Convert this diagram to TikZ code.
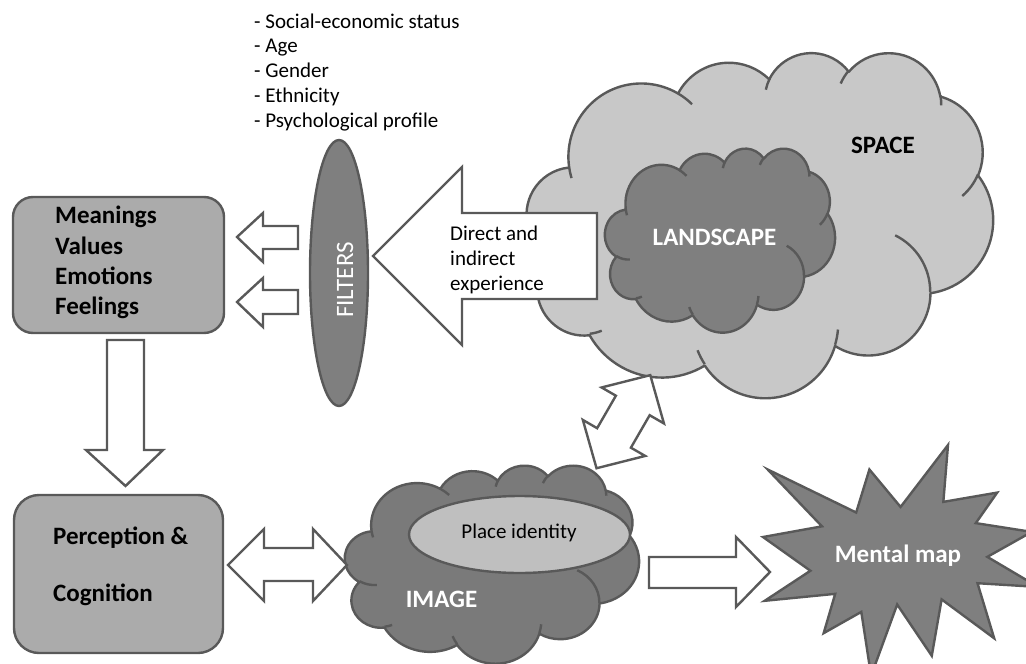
\documentclass[tikz,border=0pt]{standalone}
\usepackage{fontspec}
\setmainfont{Carlito}
\usetikzlibrary{shapes.geometric}
\definecolor{linegray}{HTML}{595959}
\definecolor{boxgray}{HTML}{ABABAB}
\definecolor{shapegray}{HTML}{7F7F7F}
\definecolor{spacegray}{HTML}{C8C8C8}
\definecolor{placegray}{HTML}{BFBFBF}
\definecolor{imagegray}{HTML}{7A7A7A}

\newcommand\oocalc[4]{%
  \pgfmathsetmacro\ooA{atan2((#1)*sin(#3),(#2)*cos(#3))}%
  \pgfmathsetmacro\ooB{atan2((#1)*sin((#3)+(#4)),(#2)*cos((#3)+(#4)))}%
  \pgfmathsetmacro\ooC{\ooB-\ooA}%
  \pgfmathsetmacro\ooC{\ooC+360*(\ooC<0)}%
  \global\let\ooTa\ooA\global\let\ooD\ooC}
\newcommand\ooarc[4]{\pgfextra{\oocalc{#1}{#2}{#3}{#4}}arc[start angle=\ooTa, delta angle=\ooD, x radius=#1, y radius=#2]}
\newcommand\oocloud[6]{%
 \begin{scope}[shift={(#2,#3)},xscale=#4/432,yscale=#5/432]
  \filldraw[cloudline,fill=#6] (39,143.7)
    \ooarc{67.53}{91.90}{-190.4875}{123.7805}
    \ooarc{53.33}{72.67}{-144.1024}{89.9452}
    \ooarc{43.65}{59.45}{-145.8079}{99.7230}
    \ooarc{48.57}{65.95}{-130.9861}{117.2417}
    \ooarc{53.33}{72.73}{-78.7089}{109.0269}
    \ooarc{67.75}{92.20}{-46.2673}{130.2690}
    \ooarc{57.85}{78.67}{0.6250}{114.0333}
    \ooarc{67.52}{92.15}{22.4516}{115.1726}
    \ooarc{77.20}{105.43}{66.2426}{75.7110}
    \ooarc{43.60}{59.40}{-274.9421}{146.7356}
    \ooarc{43.45}{59.45}{-246.8285}{152.5189}
    -- cycle;
  \draw[cloudline] (46.93,261.77) \ooarc{43.45}{59.45}{86.742}{26.4295}
    (69.28,348.99) \ooarc{43.60}{59.40}{73.6105}{11.4475}
    (164.78,390.90) \ooarc{67.52}{92.15}{137.6242}{14.0811}
    (288.27,347.51) \ooarc{67.52}{92.15}{6.4533}{15.9984}
    (341.29,229.54) \ooarc{57.85}{78.67}{-70.2924}{70.9174}
    (417.98,153.54) \ooarc{53.33}{72.73}{30.3180}{27.7515}
    (383.24,54.26) \ooarc{48.57}{65.95}{-13.7443}{14.8589}
    (290.78,39.52) \ooarc{48.57}{65.95}{-149.1815}{18.1954}
    (221.41,47.20) \ooarc{43.65}{59.45}{-163.4943}{17.6864}
    (140.00,51.92) \ooarc{67.53}{91.90}{-66.7070}{12.3194}
    (41.27,157.89) \ooarc{67.53}{91.90}{157.6544}{11.8582};
 \end{scope}
 \coordinate (#1) at ({#2+#4/2},{#3+#5/2});}

\tikzset{
  cloudline/.style={draw=linegray, line width=2.4pt, line join=round},
  blockarrow/.style={draw=linegray, line width=2.4pt, fill=white, line join=miter},
  graybox/.style={draw=linegray, line width=2.4pt, fill=boxgray, rounded corners=#1, inner sep=0pt},
  txt/.style={inner sep=0pt, anchor=base west},
  ctxt/.style={inner sep=0pt, anchor=base},
  small/.style={font=\fontsize{21}{25}\selectfont},
  big/.style={font=\fontsize{25}{30}\selectfont\bfseries},
}

\begin{document}
\begin{tikzpicture}[x=1pt,y=-1pt]
\useasboundingbox (0,0) rectangle (1026,664);
\fill[white] (0,0) rectangle (1026,664);
\clip (0,0) rectangle (1026,664);

% attribute list
\node[txt,small] (l1) at (254,28) {- Social-economic status};
\node[txt,small] (l2) at (254,52.5) {- Age};
\node[txt,small] (l3) at (254,77) {- Gender};
\node[txt,small] (l4) at (254,102) {- Ethnicity};
\node[txt,small] (l5) at (254,127.5) {- Psychological profile};

% SPACE cloud and LANDSCAPE cloud
\oocloud{space}{527}{52}{466}{345}{spacegray}
\oocloud{land}{605}{148}{230}{184}{shapegray}
\node[ctxt,big] (spacet) at (883,153) {SPACE};
\node[ctxt,big,text=white] (landt) at (714.5,245) {LANDSCAPE};

% big experience arrow
\draw[blockarrow] (373,256) -- (462,167) -- (462,213) -- (597,213) -- (597,299) -- (462,299) -- (462,345) -- cycle;
\node[txt,small] (e1) at (450,240) {Direct and};
\node[txt,small] (e2) at (450,265) {indirect};
\node[txt,small] (e3) at (450,290) {experience};

% filters
\node[ellipse, draw=linegray, line width=2.4pt, fill=shapegray, minimum width=58pt, minimum height=266pt, inner sep=0pt] (filt) at (339,273) {};
\node[ctxt, font=\fontsize{25}{30}\selectfont, text=white, rotate=90] (filtt) at (353,280) {FILTERS};

% small arrows to meanings box
\draw[blockarrow] (237,237) -- (263,213) -- (263,226) -- (298,226) -- (298,249) -- (263,249) -- (263,262) -- cycle;
\draw[blockarrow] (237,302) -- (263,278) -- (263,290) -- (298,290) -- (298,314) -- (263,314) -- (263,327) -- cycle;

% meanings box
\node[graybox=20pt, minimum width=211pt, minimum height=136pt] (mv) at (118.5,265) {};
\node[txt,big] (m1) at (55,223.5) {Meanings};
\node[txt,big] (m2) at (55,254) {Values};
\node[txt,big] (m3) at (55,284) {Emotions};
\node[txt,big] (m4) at (55,314) {Feelings};

% down arrow
\draw[blockarrow] (107,340) -- (144,340) -- (144,450) -- (163,450) -- (125.5,486) -- (86,450) -- (107,450) -- cycle;

% perception box
\node[graybox=25pt, minimum width=209pt, minimum height=158pt] (pc) at (118.5,574) {};
\node[txt,big] (p1) at (53,544) {Perception \&};
\node[txt,big] (p2) at (53,601) {Cognition};

% IMAGE cloud
\oocloud{img}{345}{465}{294}{198}{imagegray}
\node[ellipse, draw=linegray, line width=2.4pt, fill=placegray, minimum width=221pt, minimum height=77pt, inner sep=0pt] (place) at (519.5,534.5) {};
\node[ctxt,small] (placet) at (519,538) {Place identity};
\node[ctxt,big,text=white] (imgt) at (441.5,607) {IMAGE};

% double arrow perception <-> image
\draw[blockarrow] (228,565) -- (264,529) -- (264,548) -- (313,548) -- (313,529) -- (347,565) -- (313,601) -- (313,581) -- (264,581) -- (264,601) -- cycle;

% diagonal double arrow image <-> space
\begin{scope}[shift={(623.4,421.7)}, rotate=60]
\draw[blockarrow] (53.75,0) -- (18.75,-36) -- (18.75,-19.5) -- (-18.75,-19.5) -- (-18.75,-36) -- (-53.75,0) -- (-18.75,36) -- (-18.75,19.5) -- (18.75,19.5) -- (18.75,36) -- cycle;
\end{scope}

% arrow to mental map
\draw[blockarrow] (649,557) -- (736,557) -- (736,537) -- (770,572) -- (736,607) -- (736,588) -- (649,588) -- cycle;

% mental map explosion
\begin{scope}[shift={(763,445)}, xscale=1.274, yscale=1.068]
\filldraw[draw=linegray, line width=2.4pt, fill=shapegray, line join=miter]
 (108,58) -- (145.22,0) -- (141.55,53.25) -- (183.8,44.57) -- (167.02,73.15) -- (210.97,81.37) -- (176.07,104.75) -- (216,132.9) -- (168.37,129.42) -- (181.45,180.95) -- (140.2,144.57) -- (132.47,197.37) -- (105.32,149.35) -- (84.85,216) -- (77.15,156.27) -- (47.62,176.17) -- (56.67,139.37) -- (1.35,145.87) -- (37.22,117.75) -- (0,86.15) -- (46.27,76.17) -- (3.7,22.95) -- (73.12,63.2) -- (83.52,22.95) -- cycle;
\end{scope}
\node[ctxt,big,text=white] (mapt) at (898,562) {Mental map};
\end{tikzpicture}
\end{document}
